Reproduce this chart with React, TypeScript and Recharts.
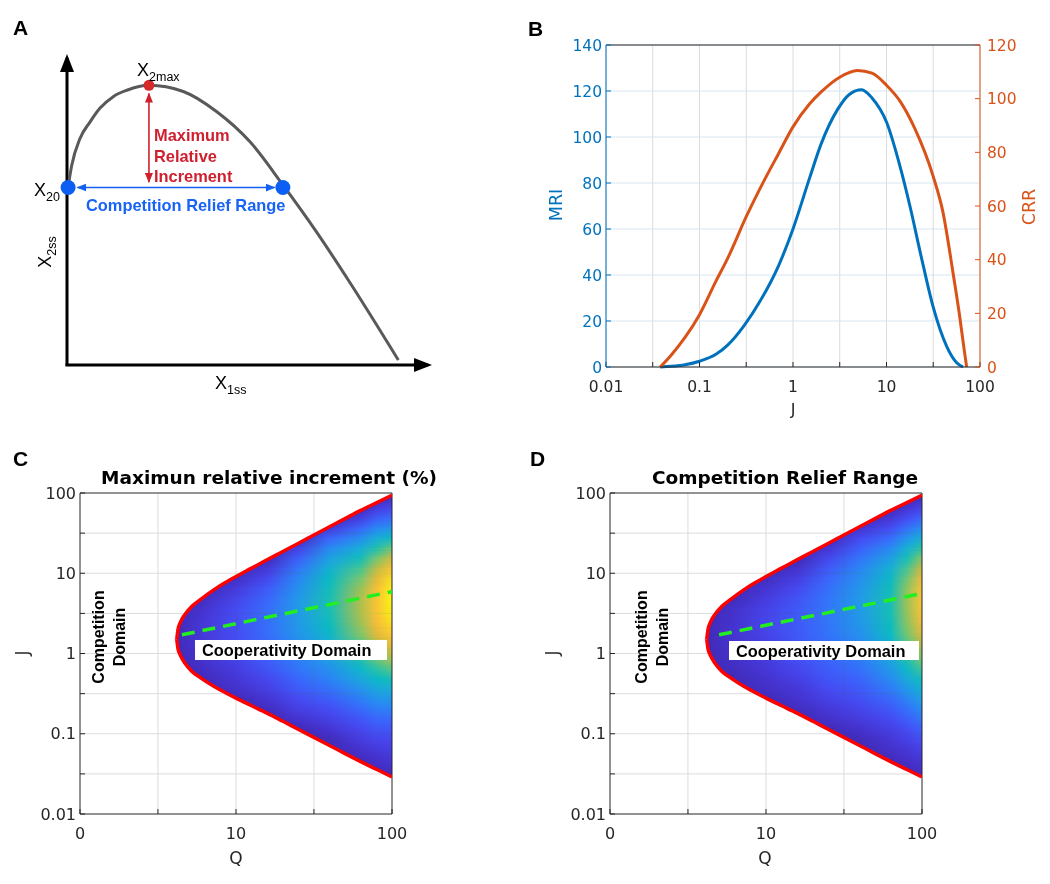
import React from 'react';
import {
  ComposedChart, Line, Area, XAxis, YAxis, CartesianGrid,
  ReferenceLine, ReferenceArea, ReferenceDot,
} from 'recharts';

// ---------- A: schematic nullcline (arbitrary units 0..100) ----------
const schemX = [0.3, 1.3, 3.6, 6.4, 9.1, 12.8, 16.6, 22.7, 32.2, 41.5, 50.7, 59.9, 69.2, 78.4, 91.8];
const schemY = [58, 65, 73.8, 79.2, 83.6, 87.4, 89.5, 91.1, 89.1, 82.5, 72.7, 58.5, 43.2, 26.8, 1.6];
const maxPoint = [22.7, 91.1];
const initPoint = [0.3, 57.8];
const reliefPoint = [59.8, 57.8];
const mriArrow = [[22.7, 88.4], [22.7, 59.6]];
const crrArrow = [[2.9, 57.8], [57.5, 57.8]];

// ---------- B: MRI / CRR vs J ----------
const mriJ = [0.038, 0.05, 0.07, 0.1, 0.15, 0.2, 0.3, 0.45, 0.7, 1, 1.5, 2, 3, 4, 5.4, 7, 10, 14, 17.8, 23.8, 31.6, 44, 56, 66];
const mriVal = [0, 0.3, 1, 2.5, 5.5, 9.5, 18, 29, 44, 60, 82, 97, 112, 118.5, 120.5, 117, 106.5, 87, 70, 47, 26, 9, 2, 0];
const crrJ = [0.038, 0.05, 0.07, 0.1, 0.15, 0.2, 0.316, 0.5, 0.7, 1, 1.5, 2, 3.16, 4.9, 7, 10, 14, 20, 31.6, 40, 51, 60, 68, 72];
const crrVal = [0, 4.5, 11, 19.5, 32, 40.5, 56, 70, 79.5, 89.5, 98, 102.5, 108, 110.5, 109.5, 105, 99, 89, 71, 58, 36, 20, 6, 0];
const jTicksB = [0.01, 0.0316, 0.1, 0.316, 1, 3.16, 10, 31.6, 100];
const jLabelsB = ['0.01', '', '0.1', '', '1', '', '10', '', '100'];
const mriTicks = [0, 20, 40, 60, 80, 100, 120, 140];
const crrTicks = [0, 20, 40, 60, 80, 100, 120];

// ---------- C / D: heat maps over (Q, J) ----------
// values read at Q = qStops (columns) and J = jLevels (rows)
const qStops = [4, 6, 10, 16, 25, 40, 63, 80, 100];
const jLevels = [0.0274, 0.0365, 0.0487, 0.0649, 0.0866, 0.1155, 0.154, 0.205, 0.274, 0.365, 0.487, 0.649, 0.866,
  1.155, 1.54, 2.05, 2.74, 3.65, 4.87, 6.49, 8.66, 11.55, 15.4, 20.5, 27.4, 36.5, 48.7, 64.9, 86.6];
const mriRows = [
  [3, 3, 3, 3, 3, 3, 3, 3, 5],
  [3, 3, 3, 3, 3, 3, 3, 5, 8],
  [3, 3, 3, 3, 3, 3, 5, 9, 12],
  [3, 3, 3, 3, 3, 3, 10, 14, 16],
  [3, 3, 3, 3, 3, 5, 15, 19, 20],
  [3, 3, 3, 3, 4, 11, 20, 25, 26],
  [3, 3, 3, 3, 10, 17, 26, 32, 33],
  [3, 3, 3, 6, 16, 22, 33, 40, 42],
  [3, 3, 4, 11, 21, 29, 41, 50, 52],
  [3, 3, 9, 16, 27, 36, 50, 60, 64],
  [3, 4, 12, 20, 32, 43, 60, 72, 78],
  [3, 7, 15, 25, 37, 49, 70, 84, 93],
  [3, 9, 18, 28, 41, 56, 80, 96, 108],
  [3, 11, 20, 31, 46, 63, 89, 107, 120],
  [3, 12, 22, 34, 49, 68, 97, 117, 130],
  [3, 12, 22, 35, 52, 73, 103, 124, 138],
  [3, 11, 22, 35, 53, 76, 107, 129, 144],
  [3, 9, 21, 34, 53, 78, 109, 131, 147],
  [3, 5, 18, 31, 52, 78, 108, 131, 148],
  [3, 3, 13, 27, 48, 76, 104, 128, 146],
  [3, 3, 7, 20, 44, 72, 97, 121, 140],
  [3, 3, 3, 12, 37, 65, 88, 111, 130],
  [3, 3, 3, 4, 28, 56, 76, 97, 115],
  [3, 3, 3, 3, 16, 45, 62, 80, 95],
  [3, 3, 3, 3, 4, 31, 47, 62, 72],
  [3, 3, 3, 3, 3, 13, 31, 44, 50],
  [3, 3, 3, 3, 3, 3, 15, 28, 33],
  [3, 3, 3, 3, 3, 3, 4, 14, 20],
  [3, 3, 3, 3, 3, 3, 3, 4, 9],
];
const crrRows = [
  [3, 3, 3, 3, 3, 3, 3, 3, 5],
  [3, 3, 3, 3, 3, 3, 3, 5, 9],
  [3, 3, 3, 3, 3, 3, 5, 9, 13],
  [3, 3, 3, 3, 3, 3, 9, 13, 18],
  [3, 3, 3, 3, 3, 5, 13, 18, 24],
  [3, 3, 3, 3, 4, 10, 17, 23, 31],
  [3, 3, 3, 3, 9, 15, 22, 30, 39],
  [3, 3, 3, 6, 13, 19, 28, 37, 48],
  [3, 3, 4, 10, 18, 24, 34, 45, 58],
  [3, 3, 8, 13, 22, 28, 41, 54, 68],
  [3, 4, 10, 17, 26, 32, 48, 63, 79],
  [3, 6, 13, 20, 29, 37, 55, 73, 91],
  [3, 8, 15, 24, 32, 41, 62, 83, 102],
  [3, 9, 17, 26, 35, 46, 68, 91, 112],
  [3, 10, 18, 27, 37, 49, 73, 98, 120],
  [3, 10, 19, 28, 38, 52, 77, 103, 127],
  [3, 9, 19, 28, 39, 54, 79, 106, 132],
  [3, 8, 18, 27, 39, 55, 80, 108, 135],
  [3, 4, 15, 25, 38, 55, 80, 108, 136],
  [3, 3, 11, 21, 36, 53, 78, 105, 134],
  [3, 3, 6, 16, 32, 49, 73, 99, 128],
  [3, 3, 3, 9, 27, 45, 66, 91, 118],
  [3, 3, 3, 3, 20, 38, 57, 80, 103],
  [3, 3, 3, 3, 11, 30, 46, 66, 85],
  [3, 3, 3, 3, 3, 21, 35, 51, 66],
  [3, 3, 3, 3, 3, 10, 23, 36, 48],
  [3, 3, 3, 3, 3, 3, 12, 22, 32],
  [3, 3, 3, 3, 3, 3, 4, 11, 18],
  [3, 3, 3, 3, 3, 3, 3, 4, 8],
];
// boundary of the cooperativity domain (red curve)
const bndQ = [4.17, 4.25, 4.4, 4.7, 5.2, 6, 7.2, 8.5, 10, 12.5, 15.8, 20, 25, 31.6, 40, 50, 63, 80, 100];
const bndUpper = [1.5, 2.0, 2.45, 3.05, 3.85, 4.8, 6.2, 7.6, 9.1, 11.5, 14.7, 18.7, 23.5, 30, 38.2, 48, 60.7, 76, 94];
const bndLower = [1.5, 1.14, 0.95, 0.76, 0.6, 0.49, 0.39, 0.327, 0.278, 0.225, 0.181, 0.143, 0.114, 0.09, 0.071, 0.0566, 0.045, 0.0358, 0.029];
const greenC = [[4.5, 1.71], [100, 5.9]];
const greenD = [[5.0, 1.71], [100, 5.6]];
const qTicks = [1, 3.16, 10, 31.6, 100];
const qLabels = ['0', '', '10', '', '100'];
const jTicks = [0.01, 0.0316, 0.1, 0.316, 1, 3.16, 10, 31.6, 100];
const jLabels = ['0.01', '', '0.1', '', '1', '', '10', '', '100'];
const gridQ = [3.16, 10, 31.6];
const gridJ = [0.0316, 0.1, 0.316, 1, 3.16, 10, 31.6];
const cbTicks = [20, 40, 60, 80, 100, 120, 140];

// parula-like colormap
const parula = [
  [0.0, 62, 38, 168], [0.07, 70, 52, 210], [0.14, 70, 74, 242], [0.21, 58, 102, 252],
  [0.28, 44, 130, 246], [0.35, 34, 153, 232], [0.42, 24, 174, 214], [0.49, 10, 187, 193],
  [0.56, 46, 194, 163], [0.63, 102, 199, 124], [0.7, 157, 194, 86], [0.77, 207, 186, 62],
  [0.84, 246, 186, 58], [0.91, 252, 208, 46], [1.0, 249, 251, 14],
];
function cmap(t: number) {
  const v = Math.max(0, Math.min(1, t));
  for (let i = 1; i < parula.length; i++) {
    if (v <= parula[i][0]) {
      const a = parula[i - 1], b = parula[i];
      const f = (v - a[0]) / (b[0] - a[0]);
      const c = [1, 2, 3].map(k => Math.round(a[k] + (b[k] - a[k]) * f));
      return `rgb(${c[0]},${c[1]},${c[2]})`;
    }
  }
  return 'rgb(249,251,14)';
}
const lq0 = Math.log10(qStops[0]);
const lq1 = Math.log10(qStops[qStops.length - 1]);
const qOff = qStops.map(q => (Math.log10(q) - lq0) / (lq1 - lq0));

const AX = '#262626';
const BLUE = '#0072BD';
const ORANGE = '#D95319';
const tickFont = { fontSize: 15.5, fill: AX, fontFamily: 'DejaVu Sans' };

const css = `
.heat .grid-dk line { mix-blend-mode: darken; }
`;

const Txt = ({ x, y, anchor = 'start', rotate = false, style, children }: any) => {
  const tx = anchor === 'middle' ? '-50%' : anchor === 'end' ? '-100%' : '0';
  return (
    <div style={{
      position: 'absolute', left: x, top: y, whiteSpace: 'nowrap', lineHeight: 1,
      transform: `translate(${tx}, -50%)${rotate ? ' rotate(-90deg)' : ''}`, ...style,
    }}>{children}</div>
  );
};

const arrowLine = (color: string, w: number, marker: string, both: boolean) => (p: any) => (
  <line x1={p.x1} y1={p.y1} x2={p.x2} y2={p.y2} stroke={color} strokeWidth={w}
    markerEnd={`url(#${marker})`} markerStart={both ? `url(#${marker})` : undefined} />
);

// a heat row rectangle; "fade" blends the upper row in over the band
const heatRect = (fill: string, fade: boolean) => (p: any) => (
  <rect x={p.x} y={p.y} width={p.width} height={p.height} fill={fill}
    mask={fade ? 'url(#fadeUp)' : undefined} shapeRendering="crispEdges" />
);

function Defs() {
  const rowGrads = (id: string, rows: number[][], cmax: number) => rows.map((vals, r) => (
    <linearGradient key={id + r} id={`${id}-${r}`} x1="0" y1="0" x2="1" y2="0">
      {vals.map((v, i) => <stop key={i} offset={qOff[i]} stopColor={cmap(v / cmax)} />)}
    </linearGradient>
  ));
  return (
    <svg width={0} height={0} style={{ position: 'absolute' }}>
      <defs>
        <marker id="axArrow" markerUnits="userSpaceOnUse" markerWidth={18} markerHeight={14}
          refX={14} refY={7} orient="auto">
          <path d="M0,0 L18,7 L0,14 z" fill="#000" />
        </marker>
        <marker id="redArrow" markerUnits="userSpaceOnUse" markerWidth={10} markerHeight={8}
          refX={9} refY={4} orient="auto-start-reverse">
          <path d="M0,0 L10,4 L0,8 z" fill="#d0202a" />
        </marker>
        <marker id="blueArrow" markerUnits="userSpaceOnUse" markerWidth={10} markerHeight={8}
          refX={9} refY={4} orient="auto-start-reverse">
          <path d="M0,0 L10,4 L0,8 z" fill="#1560f0" />
        </marker>
        <linearGradient id="parulaV" x1="0" y1="1" x2="0" y2="0">
          {parula.map((s, i) => <stop key={i} offset={s[0]} stopColor={`rgb(${s[1]},${s[2]},${s[3]})`} />)}
        </linearGradient>
        <linearGradient id="fadeGrad" x1="0" y1="1" x2="0" y2="0">
          <stop offset={0} stopColor="#fff" stopOpacity={0} />
          <stop offset={1} stopColor="#fff" stopOpacity={1} />
        </linearGradient>
        <mask id="fadeUp" maskContentUnits="objectBoundingBox" style={{ maskType: 'alpha' } as any}>
          <rect x={0} y={0} width={1} height={1} fill="url(#fadeGrad)" />
        </mask>
        {rowGrads('mri', mriRows, 150)}
        {rowGrads('crr', crrRows, 155)}
      </defs>
    </svg>
  );
}

function PanelA() {
  const curve = schemX.map((x, i) => ({ x, y: schemY[i] }));
  return (
    <div style={{ position: 'absolute', left: 0, top: 0 }}>
      <ComposedChart width={450} height={400} margin={{ top: 58, right: 22, bottom: 35, left: 67 }}>
        <XAxis type="number" dataKey="x" domain={[0, 100]} hide />
        <YAxis type="number" domain={[0, 100]} hide />
        <ReferenceLine segment={[{ x: 0, y: 0 }, { x: 0, y: 100 }]} ifOverflow="visible"
          shape={arrowLine('#000', 3, 'axArrow', false)} />
        <ReferenceLine segment={[{ x: -0.45, y: 0 }, { x: 100, y: 0 }]} ifOverflow="visible"
          shape={arrowLine('#000', 3, 'axArrow', false)} />
        <Line data={curve} dataKey="y" type="monotone" stroke="#595959" strokeWidth={3}
          dot={false} activeDot={false} isAnimationActive={false} />
        <ReferenceLine segment={mriArrow.map(p => ({ x: p[0], y: p[1] }))} ifOverflow="visible"
          shape={arrowLine('#d0202a', 1.6, 'redArrow', true)} />
        <ReferenceLine segment={crrArrow.map(p => ({ x: p[0], y: p[1] }))} ifOverflow="visible"
          shape={arrowLine('#1560f0', 1.6, 'blueArrow', true)} />
        <ReferenceDot x={maxPoint[0]} y={maxPoint[1]} r={5.5} fill="#d42a2a" stroke="none" ifOverflow="visible" />
        <ReferenceDot x={initPoint[0]} y={initPoint[1]} r={7.5} fill="#0d5ef2" stroke="none" ifOverflow="visible" />
        <ReferenceDot x={reliefPoint[0]} y={reliefPoint[1]} r={7.5} fill="#0d5ef2" stroke="none" ifOverflow="visible" />
      </ComposedChart>
    </div>
  );
}

function PanelB() {
  const mriData = mriJ.map((j, i) => ({ j, v: mriVal[i] }));
  const crrData = crrJ.map((j, i) => ({ j, v: crrVal[i] }));
  return (
    <div style={{ position: 'absolute', left: 520, top: 20 }}>
      <ComposedChart width={530} height={400} margin={{ top: 25, right: 0, bottom: 0, left: 0 }}>
        <CartesianGrid horizontal={false} stroke="#dcdcdc" yAxisId="l" />
        <CartesianGrid vertical={false} stroke="#d6e4f0" yAxisId="l" />
        <XAxis type="number" dataKey="j" scale="log" domain={[0.01, 100]} ticks={jTicksB} interval={0}
          tickFormatter={(v: number) => jLabelsB[jTicksB.indexOf(v)] ?? ''} allowDataOverflow
          height={53} stroke={AX} tickSize={-5} tickMargin={19} tick={tickFont} />
        <YAxis yAxisId="l" type="number" domain={[0, 140]} ticks={mriTicks} interval={0} width={86}
          stroke={BLUE} tickSize={-5} tickMargin={9} tick={{ ...tickFont, fill: BLUE }} />
        <YAxis yAxisId="r" orientation="right" type="number" domain={[0, 120]} ticks={crrTicks} interval={0}
          width={70} stroke={ORANGE} tickSize={-5} tickMargin={12} tick={{ ...tickFont, fill: ORANGE }} />
        <ReferenceLine yAxisId="l" y={140} stroke={AX} strokeWidth={1} />
        <Line yAxisId="l" data={mriData} dataKey="v" type="monotone" stroke={BLUE} strokeWidth={3}
          dot={false} activeDot={false} isAnimationActive={false} />
        <Line yAxisId="r" data={crrData} dataKey="v" type="monotone" stroke={ORANGE} strokeWidth={3}
          dot={false} activeDot={false} isAnimationActive={false} />
      </ComposedChart>
    </div>
  );
}

function HeatPanel({ left, id, rows, green }: { left: number; id: string; rows: number[][]; green: number[][] }) {
  const upperMask = [{ q: 1, j: bndUpper[0] }, ...bndQ.map((q, i) => ({ q, j: bndUpper[i] }))];
  const lowerMask = [{ q: 1, j: bndLower[0] }, ...bndQ.map((q, i) => ({ q, j: bndLower[i] }))];
  const upperLine = bndQ.map((q, i) => ({ q, j: bndUpper[i] }));
  const lowerLine = bndQ.map((q, i) => ({ q, j: bndLower[i] }));
  const greenLine = green.map(p => ({ q: p[0], j: p[1] }));
  const qa = qStops[0];
  const qb = qStops[qStops.length - 1];
  const last = jLevels.length - 1;
  return (
    <div className="heat" style={{ position: 'absolute', left, top: 440 }}>
      <ComposedChart width={420} height={444} margin={{ top: 53, right: 28, bottom: 0, left: 0 }}>
        <XAxis type="number" dataKey="q" scale="log" domain={[1, 100]} ticks={qTicks} interval={0}
          tickFormatter={(v: number) => qLabels[qTicks.indexOf(v)] ?? ''} allowDataOverflow
          height={70} stroke={AX} tickSize={-5} tickMargin={19} tick={{ ...tickFont, fontSize: 16 }} />
        <YAxis type="number" scale="log" domain={[0.01, 100]} ticks={jTicks} interval={0}
          tickFormatter={(v: number) => jLabels[jTicks.indexOf(v)] ?? ''} allowDataOverflow
          width={80} stroke={AX} tickSize={-5} tickMargin={9} tick={{ ...tickFont, fontSize: 16 }} />
        <ReferenceArea x1={qa} x2={qb} y1={0.015} y2={jLevels[0]} ifOverflow="visible"
          shape={heatRect(`url(#${id}-0)`, false)} />
        <ReferenceArea x1={qa} x2={qb} y1={jLevels[last]} y2={100} ifOverflow="visible"
          shape={heatRect(`url(#${id}-${last})`, false)} />
        {jLevels.slice(0, last).map((j, r) => (
          <ReferenceArea key={'b' + r} x1={qa} x2={qb} y1={j} y2={jLevels[r + 1]} ifOverflow="visible"
            shape={heatRect(`url(#${id}-${r})`, false)} />
        ))}
        {jLevels.slice(0, last).map((j, r) => (
          <ReferenceArea key={'f' + r} x1={qa} x2={qb} y1={j} y2={jLevels[r + 1]} ifOverflow="visible"
            shape={heatRect(`url(#${id}-${r + 1})`, true)} />
        ))}
        <Area data={upperMask} dataKey={(d: any) => [d.j, 100]} type="monotone" fill="#fff" fillOpacity={1}
          stroke="none" dot={false} activeDot={false} isAnimationActive={false} />
        <Area data={lowerMask} dataKey={(d: any) => [0.01, d.j]} type="monotone" fill="#fff" fillOpacity={1}
          stroke="none" dot={false} activeDot={false} isAnimationActive={false} />
        {gridQ.map(q => <ReferenceLine key={'gq' + q} x={q} stroke="#dcdcdc" className="grid-dk" />)}
        {gridJ.map(j => <ReferenceLine key={'gj' + j} y={j} stroke="#dcdcdc" className="grid-dk" />)}
        <ReferenceLine y={100} stroke={AX} />
        <ReferenceLine x={100} stroke={AX} />
        <Line data={upperLine} dataKey="j" type="monotone" stroke="#ff0000" strokeWidth={3.5}
          dot={false} activeDot={false} isAnimationActive={false} />
        <Line data={lowerLine} dataKey="j" type="monotone" stroke="#ff0000" strokeWidth={3.5}
          dot={false} activeDot={false} isAnimationActive={false} />
        <Line data={greenLine} dataKey="j" type="linear" stroke="#22ee22" strokeWidth={3.5} strokeDasharray="13 8"
          dot={false} activeDot={false} isAnimationActive={false} />
      </ComposedChart>
    </div>
  );
}

function ColorBar({ left, cmax, plotW }: { left: number; cmax: number; plotW: number }) {
  return (
    <div style={{ position: 'absolute', left, top: 440 }}>
      <ComposedChart width={8 + plotW + 55} height={444} margin={{ top: 53, right: 0, bottom: 70, left: 8 }}>
        <XAxis type="number" dataKey="x" domain={[0, 1]} hide />
        <YAxis orientation="right" type="number" domain={[0, cmax]} ticks={cbTicks} interval={0} width={55}
          axisLine={false} stroke={AX} tickSize={-4} tickMargin={11} tick={tickFont} />
        <ReferenceArea x1={0} x2={1} y1={0} y2={cmax} fill="url(#parulaV)" fillOpacity={1}
          stroke={AX} strokeWidth={1} />
      </ComposedChart>
    </div>
  );
}

const bold = { fontFamily: '"Liberation Sans", Arial, sans-serif', fontWeight: 700 };
const dv = { fontFamily: '"DejaVu Sans", sans-serif', color: AX };
const sub = (s: string) => <span style={{ fontSize: 12.5, position: 'relative', top: 5 }}>{s}</span>;

export default function App() {
  const aFont = { fontFamily: '"Liberation Sans", Arial, sans-serif', fontSize: 18, color: '#000' };
  return (
    <div style={{ position: 'absolute', left: 0, top: 0, width: 1050, height: 884, background: '#fff', overflow: 'hidden' }}>
      <style>{css}</style>
      <Defs />
      <PanelA />
      <PanelB />
      <HeatPanel left={0} id="mri" rows={mriRows} green={greenC} />
      <ColorBar left={415} cmax={150} plotW={27} />
      <HeatPanel left={530} id="crr" rows={crrRows} green={greenD} />
      <ColorBar left={939} cmax={155} plotW={28} />

      {/* panel letters */}
      <Txt x={13} y={27} style={{ ...bold, fontSize: 21 }}>A</Txt>
      <Txt x={528} y={28} style={{ ...bold, fontSize: 21 }}>B</Txt>
      <Txt x={13} y={458} style={{ ...bold, fontSize: 21 }}>C</Txt>
      <Txt x={530} y={458} style={{ ...bold, fontSize: 21 }}>D</Txt>

      {/* A annotations */}
      <Txt x={137} y={70} style={aFont}>X{sub('2max')}</Txt>
      <Txt x={34} y={190} style={aFont}>X{sub('20')}</Txt>
      <Txt x={45} y={252} anchor="middle" rotate style={aFont}>X{sub('2ss')}</Txt>
      <Txt x={215} y={383} style={aFont}>X{sub('1ss')}</Txt>
      <div style={{ position: 'absolute', left: 154, top: 125, ...bold, fontSize: 16.4, lineHeight: '20.5px', color: '#cf2030' }}>
        Maximum<br />Relative<br />Increment
      </div>
      <Txt x={86} y={205} style={{ ...bold, fontSize: 16.4, color: '#1763f5' }}>Competition Relief Range</Txt>

      {/* B axis titles */}
      <Txt x={557} y={205} anchor="middle" rotate style={{ ...dv, fontSize: 17.5, color: BLUE }}>MRI</Txt>
      <Txt x={1030} y={207} anchor="middle" rotate style={{ ...dv, fontSize: 17.5, color: ORANGE }}>CRR</Txt>
      <Txt x={793} y={410} anchor="middle" style={{ ...dv, fontSize: 16 }}>J</Txt>

      {/* C */}
      <Txt x={269} y={478} anchor="middle" style={{ ...dv, fontSize: 18.5, fontWeight: 700, color: '#000' }}>Maximun relative increment (%)</Txt>
      <Txt x={22} y={653} anchor="middle" rotate style={{ ...dv, fontSize: 17 }}>J</Txt>
      <Txt x={236} y={858} anchor="middle" style={{ ...dv, fontSize: 17 }}>Q</Txt>
      <Txt x={110} y={637} anchor="middle" rotate style={{ ...bold, fontSize: 16, lineHeight: '20.7px', textAlign: 'center' }}>Competition<br />Domain</Txt>
      <div style={{ position: 'absolute', left: 195, top: 640, width: 192, height: 20, background: '#fff' }} />
      <Txt x={202} y={650} style={{ ...bold, fontSize: 16.4 }}>Cooperativity Domain</Txt>

      {/* D */}
      <Txt x={785} y={478} anchor="middle" style={{ ...dv, fontSize: 18.5, fontWeight: 700, color: '#000' }}>Competition Relief Range</Txt>
      <Txt x={552} y={653} anchor="middle" rotate style={{ ...dv, fontSize: 17 }}>J</Txt>
      <Txt x={765} y={858} anchor="middle" style={{ ...dv, fontSize: 17 }}>Q</Txt>
      <Txt x={653} y={637} anchor="middle" rotate style={{ ...bold, fontSize: 16, lineHeight: '20.7px', textAlign: 'center' }}>Competition<br />Domain</Txt>
      <div style={{ position: 'absolute', left: 729, top: 641, width: 190, height: 19, background: '#fff' }} />
      <Txt x={736} y={650.5} style={{ ...bold, fontSize: 16.4 }}>Cooperativity Domain</Txt>
    </div>
  );
}
